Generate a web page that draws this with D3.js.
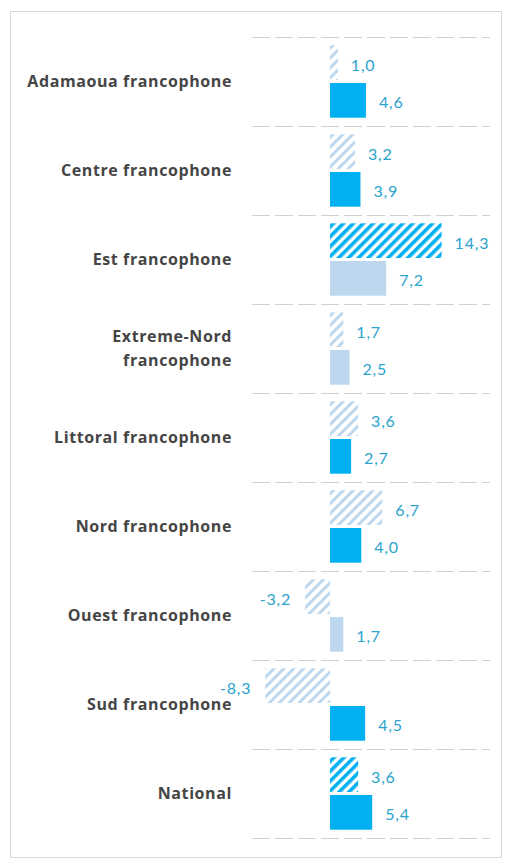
<!DOCTYPE html>
<html><head><meta charset="utf-8">
<script src="https://cdn.jsdelivr.net/npm/d3@7"></script>
<style>html,body{margin:0;padding:0;background:#fff;}</style>
</head><body>
<svg id="chart" width="510" height="859"></svg>
<script>
const categories = ["Adamaoua francophone","Centre francophone","Est francophone","Extreme-Nord francophone","Littoral francophone","Nord francophone","Ouest francophone","Sud francophone","National"];
const hatchedValues = [1.0, 3.2, 14.3, 1.7, 3.6, 6.7, -3.2, -8.3, 3.6];
const solidValues = [4.6, 3.9, 7.2, 2.5, 2.7, 4.0, 1.7, 4.5, 5.4];
const hatchedStrong = [false, false, true, false, false, false, false, false, true];
const solidStrong = [true, true, false, false, true, true, false, true, true];
const labelLines = [["Adamaoua francophone"],["Centre francophone"],["Est francophone"],["Extreme-Nord","francophone"],["Littoral francophone"],["Nord francophone"],["Ouest francophone"],["Sud francophone"],["National"]];

const svg = d3.select("#chart");
const BRIGHT = "#00B0F0", LIGHT = "#BDD7EE", LABEL = "#2AA3CD", TEXT = "#454545";

const defs = svg.append("defs");
function hatch(id, color, w) {
  const p = defs.append("pattern").attr("id", id).attr("patternUnits", "userSpaceOnUse")
    .attr("width", 7).attr("height", 7).attr("patternTransform", "rotate(45)");
  p.append("rect").attr("width", 7).attr("height", 7).attr("fill", "#fff");
  p.append("rect").attr("x", 0).attr("width", w).attr("height", 7).attr("fill", color);
}
hatch("hLight", LIGHT, 3);
hatch("hDark", BRIGHT, 3.6);

// frame
svg.append("rect").attr("x", 10.5).attr("y", 11.5).attr("width", 491).attr("height", 846)
  .attr("fill", "#fff").attr("stroke", "#D9D9D9").attr("stroke-width", 1);

const x = d3.scaleLinear().domain([-10, 20.5]).range([252, 490]);
const y = d3.scaleBand().domain(categories).range([37, 838]);
const inner = d3.scaleBand().domain(["h", "s"]).range([0, y.bandwidth()]).paddingOuter(0.22).paddingInner(0.08);

// gridlines at band boundaries
const bounds = categories.map(c => y(c)).concat([y.range()[1]]);
svg.append("g").selectAll("line").data(bounds).join("line")
  .attr("x1", 252).attr("x2", 490).attr("y1", d => d + 0.5).attr("y2", d => d + 0.5)
  .attr("stroke", "#D0D0D0").attr("stroke-width", 1).attr("stroke-dasharray", "18,5");

const rows = categories.map((c, i) => ({c, i}));
const g = svg.append("g");
const fmt = v => d3.format(".1f")(v).replace(".", ",").replace("\u2212", "-");
function bars(key, vals, fillFn) {
  g.selectAll("rect." + key).data(rows).join("rect").attr("class", key)
    .attr("x", d => x(Math.min(0, vals[d.i])))
    .attr("width", d => Math.abs(x(vals[d.i]) - x(0)))
    .attr("y", d => y(d.c) + inner(key))
    .attr("height", inner.bandwidth())
    .attr("fill", d => fillFn(d.i));
  g.selectAll("text." + key).data(rows).join("text").attr("class", key)
    .attr("x", d => vals[d.i] >= 0 ? x(vals[d.i]) + 13 : x(vals[d.i]) - 14)
    .attr("y", d => y(d.c) + inner(key) + inner.bandwidth() / 2 + 4)
    .attr("dominant-baseline", "middle")
    .attr("text-anchor", d => vals[d.i] >= 0 ? "start" : "end")
    .attr("font-family", "Lato, 'Open Sans', sans-serif").attr("font-size", 16)
    .attr("letter-spacing", 0.8)
    .attr("fill", LABEL)
    .text(d => fmt(vals[d.i]));
}
bars("h", hatchedValues, i => hatchedStrong[i] ? "url(#hDark)" : "url(#hLight)");
bars("s", solidValues, i => solidStrong[i] ? BRIGHT : LIGHT);

// category labels
const lab = svg.append("g").selectAll("text").data(rows).join("text")
  .attr("text-anchor", "end")
  .attr("font-family", "'Open Sans', Lato, sans-serif").attr("font-weight", "bold").attr("font-size", 16)
  .attr("letter-spacing", 0.6)
  .attr("fill", TEXT)
  .attr("y", d => y(d.c) + y.bandwidth() / 2);
lab.each(function(d) {
  const lines = labelLines[d.i];
  const t = d3.select(this);
  lines.forEach((l, k) => {
    t.append("tspan").attr("x", 232)
      .attr("dy", k === 0 ? ((-(lines.length - 1) * 12) + 5) : 24)
      .text(l);
  });
});
</script>
</body></html>
